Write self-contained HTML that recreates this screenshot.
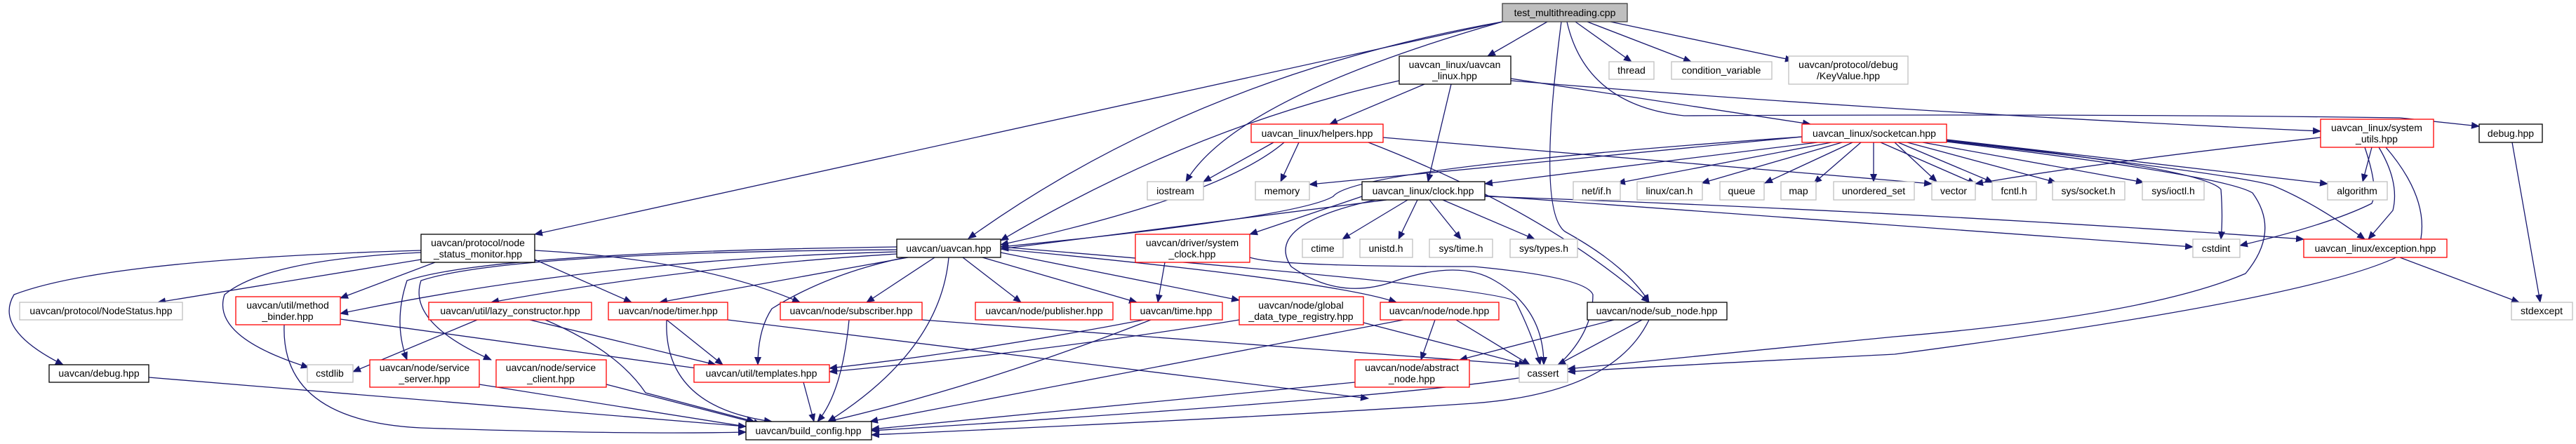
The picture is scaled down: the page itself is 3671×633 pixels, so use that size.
<!DOCTYPE html>
<html><head><meta charset="utf-8"><style>
html,body{margin:0;padding:0;background:#fff}
svg{display:block}
text{font-family:"Liberation Sans",sans-serif;font-size:14px;fill:#000}
.e{fill:none;stroke:#191970;stroke-width:1.3}
</style></head><body>
<svg width="3671" height="633" viewBox="0 0 3671 633" xmlns="http://www.w3.org/2000/svg">
<defs><marker id="a" markerUnits="userSpaceOnUse" markerWidth="12" markerHeight="10" refX="11" refY="5" orient="auto"><path d="M0,0 L12,5 L0,10 z" fill="#191970"/></marker></defs>
<g class="e" marker-end="url(#a)">
<path d="M2141,31 L762,334"/>
<path d="M2141,31 Q1700,110 1380,340"/>
<path d="M2205,31 L2120,80"/>
<path d="M2245,31 L2325,88"/>
<path d="M2262,31 L2410,88"/>
<path d="M2295,31 L2555,86"/>
<path d="M2141,31 Q1760,140 1690,259"/>
<path d="M2225,31 Q2190,300 2230,330 Q2320,380 2350,431"/>
<path d="M2233,31 Q2260,150 2400,165 Q3000,162 3420,168 L3533,180"/>
<path d="M1994,115 Q1700,180 1426,343"/>
<path d="M2030,120 L1895,177"/>
<path d="M2068,120 L2035,259"/>
<path d="M2153,112 L2580,177"/>
<path d="M2153,115 Q2700,160 3307,187"/>
<path d="M1815,203 L1715,259"/>
<path d="M1851,203 L1825,259"/>
<path d="M1830,203 Q1740,280 1426,349"/>
<path d="M1971,196 L2753,262"/>
<path d="M1950,203 Q2200,300 2350,431"/>
<path d="M2568,195 Q2200,230 1866,263"/>
<path d="M2568,195 Q1930,240 1900,280 Q1850,310 1426,352"/>
<path d="M2590,203 L2116,262"/>
<path d="M2610,203 L2305,261"/>
<path d="M2625,203 L2425,261"/>
<path d="M2640,203 L2515,261"/>
<path d="M2652,203 L2585,261"/>
<path d="M2670,203 L2670,259"/>
<path d="M2680,203 L2815,262"/>
<path d="M2700,203 L2760,259"/>
<path d="M2705,203 L2840,260"/>
<path d="M2718,203 L2930,260"/>
<path d="M2740,203 L3055,260"/>
<path d="M2774,199 Q3080,235 3317,262"/>
<path d="M2774,200 Q3140,240 3165,270 Q3168,310 3165,341"/>
<path d="M2774,201 Q3200,250 3240,265 Q3300,290 3370,341"/>
<path d="M2774,202 Q3170,250 3210,275 Q3250,330 3200,390 Q3060,450 2700,480 Q2400,510 2234,526"/>
<path d="M3307,196 Q3000,230 2815,262"/>
<path d="M3380,210 L3367,259"/>
<path d="M3370,210 Q3390,270 3380,290 Q3320,320 3192,350"/>
<path d="M3390,210 Q3420,260 3410,300 L3375,341"/>
<path d="M3400,210 Q3460,280 3450,340 Q3420,410 2700,505 Q2400,520 2234,530"/>
<path d="M3580,203 L3620,431"/>
<path d="M3420,367 L3590,431"/>
<path d="M2006,285 L1913,341"/>
<path d="M2020,285 L1993,341"/>
<path d="M2037,285 L2082,341"/>
<path d="M2056,285 L2187,341"/>
<path d="M1976,285 L1426,355"/>
<path d="M1941,280 L1781,334"/>
<path d="M2116,279 L3125,352"/>
<path d="M2116,280 Q2700,300 3283,341"/>
<path d="M1960,285 Q1800,320 1840,380 Q1910,430 1990,400 Q2080,370 2130,400 Q2200,440 2200,520"/>
<path d="M1660,374 L1650,431"/>
<path d="M1781,367 Q1820,380 2100,380 Q2260,395 2270,420 Q2270,480 2210,530 Q2100,560 1242,614"/>
<path d="M1278,359 Q850,370 485,447"/>
<path d="M1278,362 Q980,380 700,431"/>
<path d="M1294,367 L940,431"/>
<path d="M1332,367 L1235,431"/>
<path d="M1372,367 L1455,431"/>
<path d="M1400,367 L1620,431"/>
<path d="M1426,360 L1766,428"/>
<path d="M1426,355 Q1900,400 1990,431"/>
<path d="M1426,352 Q2140,410 2160,430 Q2185,480 2195,520"/>
<path d="M1290,367 Q1180,390 1100,440 Q1080,470 1080,520"/>
<path d="M1352,367 Q1340,500 1180,601"/>
<path d="M1278,352 Q700,360 580,400 Q560,460 580,513"/>
<path d="M1278,356 Q720,360 600,400 Q580,460 700,513"/>
<path d="M600,370 L225,431"/>
<path d="M600,357 Q150,370 20,420 Q-10,470 90,520"/>
<path d="M600,360 Q380,370 320,420 Q300,480 440,524"/>
<path d="M620,374 L485,425"/>
<path d="M762,370 L900,431"/>
<path d="M762,357 Q1000,370 1140,431"/>
<path d="M405,463 Q400,600 600,610 Q900,620 1063,616"/>
<path d="M485,455 L1000,526"/>
<path d="M680,456 L503,530"/>
<path d="M755,456 L1020,520"/>
<path d="M777,456 Q880,500 920,560 L1075,601"/>
<path d="M212,538 L1063,608"/>
<path d="M683,548 L1075,610"/>
<path d="M864,548 L1085,605"/>
<path d="M950,456 L1030,520"/>
<path d="M950,456 Q945,580 1100,601"/>
<path d="M1037,456 L1950,568"/>
<path d="M1210,456 Q1200,560 1165,601"/>
<path d="M1314,456 Q1900,500 2170,520"/>
<path d="M1630,456 Q1400,500 1182,525"/>
<path d="M1640,456 Q1400,550 1180,601"/>
<path d="M1766,456 Q1500,500 1182,530"/>
<path d="M1943,460 L2175,520"/>
<path d="M1145,545 L1160,601"/>
<path d="M2000,456 L1240,601"/>
<path d="M2045,456 L2025,513"/>
<path d="M2075,456 L2180,520"/>
<path d="M2300,456 L2080,513"/>
<path d="M2340,456 L2220,520"/>
<path d="M2350,456 Q2300,560 2100,575 Q1800,595 1242,620"/>
<path d="M1931,545 L1242,612"/>
</g>
<g>
<rect x="2141" y="5" width="178" height="26" fill="#bfbfbf" stroke="#404040" stroke-width="1.3"/>
<text x="2230" y="23" text-anchor="middle">test_multithreading.cpp</text>
</g>
<g fill="#fff" stroke-width="1.3">
<rect x="1994" y="80" width="159" height="40" stroke="#000"/>
<rect x="2293" y="88" width="64" height="25" stroke="#bfbfbf"/>
<rect x="2382" y="88" width="143" height="25" stroke="#bfbfbf"/>
<rect x="2549" y="80" width="170" height="40" stroke="#bfbfbf"/>
<rect x="1783" y="177" width="188" height="26" stroke="#f00"/>
<rect x="2568" y="177" width="206" height="26" stroke="#f00"/>
<rect x="3307" y="170" width="161" height="40" stroke="#f00"/>
<rect x="3533" y="177" width="90" height="26" stroke="#000"/>
<rect x="1635" y="259" width="80" height="26" stroke="#bfbfbf"/>
<rect x="1789" y="259" width="77" height="26" stroke="#bfbfbf"/>
<rect x="1941" y="259" width="175" height="26" stroke="#000"/>
<rect x="2242" y="259" width="67" height="26" stroke="#bfbfbf"/>
<rect x="2333" y="259" width="93" height="26" stroke="#bfbfbf"/>
<rect x="2451" y="259" width="63" height="26" stroke="#bfbfbf"/>
<rect x="2538" y="259" width="50" height="26" stroke="#bfbfbf"/>
<rect x="2613" y="259" width="115" height="26" stroke="#bfbfbf"/>
<rect x="2753" y="259" width="62" height="26" stroke="#bfbfbf"/>
<rect x="2839" y="259" width="63" height="26" stroke="#bfbfbf"/>
<rect x="2925" y="259" width="103" height="26" stroke="#bfbfbf"/>
<rect x="3053" y="259" width="88" height="26" stroke="#bfbfbf"/>
<rect x="3317" y="259" width="85" height="26" stroke="#bfbfbf"/>
<rect x="600" y="334" width="162" height="40" stroke="#000"/>
<rect x="1278" y="341" width="148" height="26" stroke="#000"/>
<rect x="1618" y="334" width="163" height="40" stroke="#f00"/>
<rect x="1856" y="341" width="58" height="26" stroke="#bfbfbf"/>
<rect x="1938" y="341" width="75" height="26" stroke="#bfbfbf"/>
<rect x="2037" y="341" width="90" height="26" stroke="#bfbfbf"/>
<rect x="2152" y="341" width="96" height="26" stroke="#bfbfbf"/>
<rect x="3125" y="341" width="67" height="26" stroke="#bfbfbf"/>
<rect x="3283" y="341" width="204" height="26" stroke="#f00"/>
<rect x="28" y="431" width="232" height="25" stroke="#bfbfbf"/>
<rect x="336" y="423" width="149" height="40" stroke="#f00"/>
<rect x="611" y="431" width="232" height="25" stroke="#f00"/>
<rect x="867" y="431" width="170" height="25" stroke="#f00"/>
<rect x="1112" y="431" width="202" height="25" stroke="#f00"/>
<rect x="1390" y="431" width="196" height="25" stroke="#f00"/>
<rect x="1611" y="431" width="131" height="25" stroke="#f00"/>
<rect x="1766" y="423" width="177" height="40" stroke="#f00"/>
<rect x="1967" y="431" width="169" height="25" stroke="#f00"/>
<rect x="2262" y="431" width="199" height="25" stroke="#000"/>
<rect x="3579" y="431" width="87" height="25" stroke="#bfbfbf"/>
<rect x="70" y="520" width="142" height="25" stroke="#000"/>
<rect x="438" y="520" width="65" height="25" stroke="#bfbfbf"/>
<rect x="527" y="513" width="156" height="39" stroke="#f00"/>
<rect x="707" y="513" width="157" height="39" stroke="#f00"/>
<rect x="989" y="520" width="193" height="25" stroke="#f00"/>
<rect x="1931" y="513" width="163" height="39" stroke="#f00"/>
<rect x="2165" y="520" width="69" height="25" stroke="#bfbfbf"/>
<rect x="1063" y="601" width="179" height="26" stroke="#000"/>
</g>
<g text-anchor="middle">
<text x="2073" y="97">uavcan_linux/uavcan</text><text x="2073" y="113">_linux.hpp</text>
<text x="2325" y="105">thread</text>
<text x="2453" y="105">condition_variable</text>
<text x="2634" y="97">uavcan/protocol/debug</text><text x="2634" y="113">/KeyValue.hpp</text>
<text x="1877" y="195">uavcan_linux/helpers.hpp</text>
<text x="2671" y="195">uavcan_linux/socketcan.hpp</text>
<text x="3387" y="187">uavcan_linux/system</text><text x="3387" y="203">_utils.hpp</text>
<text x="3578" y="195">debug.hpp</text>
<text x="1675" y="277">iostream</text>
<text x="1827" y="277">memory</text>
<text x="2028" y="277">uavcan_linux/clock.hpp</text>
<text x="2275" y="277">net/if.h</text>
<text x="2379" y="277">linux/can.h</text>
<text x="2482" y="277">queue</text>
<text x="2563" y="277">map</text>
<text x="2670" y="277">unordered_set</text>
<text x="2784" y="277">vector</text>
<text x="2870" y="277">fcntl.h</text>
<text x="2976" y="277">sys/socket.h</text>
<text x="3097" y="277">sys/ioctl.h</text>
<text x="3359" y="277">algorithm</text>
<text x="681" y="351">uavcan/protocol/node</text><text x="681" y="367">_status_monitor.hpp</text>
<text x="1352" y="359">uavcan/uavcan.hpp</text>
<text x="1699" y="351">uavcan/driver/system</text><text x="1699" y="367">_clock.hpp</text>
<text x="1885" y="359">ctime</text>
<text x="1975" y="359">unistd.h</text>
<text x="2082" y="359">sys/time.h</text>
<text x="2200" y="359">sys/types.h</text>
<text x="3158" y="359">cstdint</text>
<text x="3385" y="359">uavcan_linux/exception.hpp</text>
<text x="144" y="448">uavcan/protocol/NodeStatus.hpp</text>
<text x="410" y="440">uavcan/util/method</text><text x="410" y="456">_binder.hpp</text>
<text x="727" y="448">uavcan/util/lazy_constructor.hpp</text>
<text x="952" y="448">uavcan/node/timer.hpp</text>
<text x="1213" y="448">uavcan/node/subscriber.hpp</text>
<text x="1488" y="448">uavcan/node/publisher.hpp</text>
<text x="1676" y="448">uavcan/time.hpp</text>
<text x="1854" y="440">uavcan/node/global</text><text x="1854" y="456">_data_type_registry.hpp</text>
<text x="2051" y="448">uavcan/node/node.hpp</text>
<text x="2361" y="448">uavcan/node/sub_node.hpp</text>
<text x="3622" y="448">stdexcept</text>
<text x="141" y="537">uavcan/debug.hpp</text>
<text x="470" y="537">cstdlib</text>
<text x="605" y="529">uavcan/node/service</text><text x="605" y="545">_server.hpp</text>
<text x="785" y="529">uavcan/node/service</text><text x="785" y="545">_client.hpp</text>
<text x="1085" y="537">uavcan/util/templates.hpp</text>
<text x="2012" y="529">uavcan/node/abstract</text><text x="2012" y="545">_node.hpp</text>
<text x="2199" y="537">cassert</text>
<text x="1152" y="619">uavcan/build_config.hpp</text>
</g>
</svg>
</body></html>
